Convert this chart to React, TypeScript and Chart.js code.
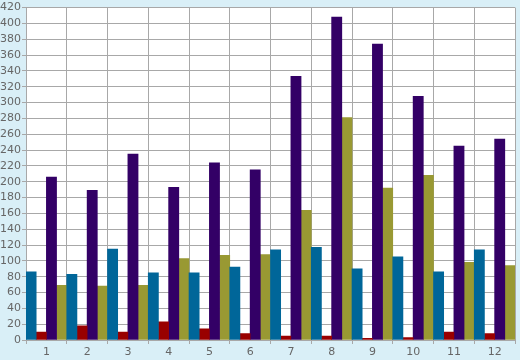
import React, { useEffect, useRef } from "react";
import { Chart, registerables } from "chart.js";

Chart.register(...registerables);

const categories = ["1", "2", "3", "4", "5", "6", "7", "8", "9", "10", "11", "12"];
const tealValues = [86, 83, 115, 85, 85, 92, 114, 117, 90, 105, 86, 114];
const redValues = [10, 18, 10, 23, 14, 8, 5, 5, 2, 3, 10, 8];
const purpleValues = [206, 189, 235, 193, 224, 215, 333, 408, 374, 308, 245, 254];
const oliveValues = [69, 68, 69, 103, 107, 108, 164, 281, 192, 208, 98, 94];
const yMin = 0;
const yMax = 420;
const yStep = 20;

const bgPlugin = {
  id: "bgPlugin",
  beforeDraw(chart: any) {
    const { ctx, chartArea, width, height } = chart;
    ctx.save();
    ctx.fillStyle = "#d9eff7";
    ctx.fillRect(0, 0, width, height);
    ctx.fillStyle = "#ffffff";
    ctx.fillRect(chartArea.left, chartArea.top, chartArea.right - chartArea.left, chartArea.bottom - chartArea.top);
    ctx.restore();
  },
};

export default function App() {
  const ref = useRef<HTMLCanvasElement | null>(null);
  useEffect(() => {
    document.body.style.margin = "0";
    const canvas = ref.current;
    if (!canvas) return;
    const font = { family: "'DejaVu Sans', sans-serif", size: 11 };
    const chart = new Chart(canvas, {
      type: "bar",
      data: {
        labels: categories,
        datasets: [
          { data: tealValues, backgroundColor: "#006699" },
          { data: redValues, backgroundColor: "#990000" },
          { data: purpleValues, backgroundColor: "#330066" },
          { data: oliveValues, backgroundColor: "#999933" },
        ],
      },
      options: {
        animation: false,
        responsive: false,
        devicePixelRatio: 1,
        layout: { padding: { top: 0, right: 5, left: 0, bottom: 0 } },
        plugins: { legend: { display: false }, tooltip: { enabled: false } },
        datasets: { bar: { categoryPercentage: 1, barPercentage: 1 } },
        scales: {
          x: {
            offset: true,
            grid: { offset: true, color: "#a8a8a8", tickLength: 4, lineWidth: 1 },
            border: { color: "#a8a8a8" },
            ticks: { color: "#666666", font, padding: 2, maxRotation: 0, autoSkip: false },
            afterFit(scale: any) {
              scale.height = 20;
            },
          },
          y: {
            min: yMin,
            max: yMax,
            ticks: { stepSize: yStep, color: "#666666", font, padding: 1, autoSkip: false },
            grid: { color: "#a8a8a8", tickLength: 4, lineWidth: 1 },
            border: { color: "#a8a8a8" },
            afterFit(scale: any) {
              scale.width = 26;
            },
          },
        },
      },
      plugins: [bgPlugin],
    });
    return () => chart.destroy();
  }, []);
  return (
    <div style={{ width: 520, height: 360 }}>
      <canvas ref={ref} width={520} height={360} />
    </div>
  );
}
